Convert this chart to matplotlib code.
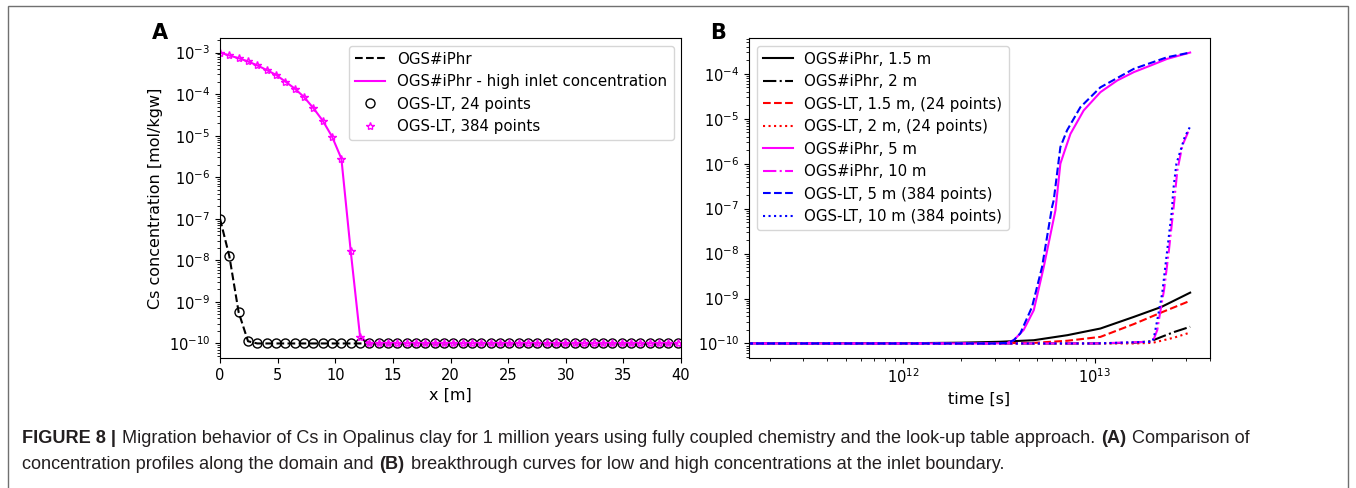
import numpy as np
import matplotlib
matplotlib.use("Agg")
import matplotlib.pyplot as plt
from matplotlib.patches import Rectangle
from matplotlib.font_manager import FontProperties

# ---- panel A: concentration profiles along the domain ----
x_nodes = np.linspace(0, 39.7, 50)  # node positions [m]
c_low = [1.0e-7, 1.26e-8, 5.6e-10, 1.13e-10] + [1.0e-10] * 46
c_high = [1.0e-3, 8.5e-4, 7.3e-4, 6.1e-4, 4.9e-4, 3.8e-4, 2.9e-4, 2.0e-4,
          1.36e-4, 8.5e-5, 4.6e-5, 2.3e-5, 9.5e-6, 2.8e-6, 1.66e-8,
          1.45e-10] + [1.0e-10] * 34

# ---- panel B: breakthrough curves ----
t_iphr_15 = [1e11, 1e12, 2e12, 3.2e12, 4.8e12, 7.2e12, 1.07e13, 1.6e13, 2.23e13, 3.15e13]
c_iphr_15 = [1.0e-10, 1.01e-10, 1.04e-10, 1.09e-10, 1.18e-10, 1.53e-10, 2.15e-10, 3.9e-10, 6.5e-10, 1.35e-9]

t_iphr_2 = [1e11, 1e13, 1.6e13, 1.96e13, 2.23e13, 2.6e13, 3.15e13]
c_iphr_2 = [1.0e-10, 1.0e-10, 1.04e-10, 1.12e-10, 1.4e-10, 1.8e-10, 2.35e-10]

t_lt_15 = [1e11, 2e12, 4.8e12, 7.2e12, 1.07e13, 1.6e13, 2.23e13, 3.15e13]
c_lt_15 = [1.0e-10, 1.0e-10, 1.03e-10, 1.15e-10, 1.4e-10, 2.7e-10, 4.9e-10, 8.9e-10]

t_lt_2 = [1e11, 1.6e13, 2.0e13, 2.23e13, 2.6e13, 3.15e13]
c_lt_2 = [1.0e-10, 1.0e-10, 1.03e-10, 1.15e-10, 1.35e-10, 1.75e-10]

t_iphr_5 = [1e11, 2e12, 3.0e12, 3.47e12, 3.77e12, 4.25e12, 4.8e12, 5.41e12, 6.23e12,
            6.61e12, 6.88e12, 7.46e12, 8.75e12, 1.07e13, 1.31e13, 1.6e13, 1.96e13,
            2.39e13, 3.15e13]
c_iphr_5 = [1.0e-10, 1.0e-10, 1.0e-10, 1.02e-10, 1.18e-10, 2.0e-10, 5.5e-10, 5.0e-9, 9.2e-8,
            1.0e-6, 1.67e-6, 4.6e-6, 1.53e-5, 3.9e-5, 7.1e-5, 1.09e-4, 1.53e-4,
            2.15e-4, 2.97e-4]

t_iphr_10 = [1e11, 1e13, 1.96e13, 2.04e13, 2.12e13, 2.19e13, 2.30e13, 2.44e13, 2.59e13,
             2.70e13, 2.87e13, 3.1e13]
c_iphr_10 = [1.0e-10, 1.0e-10, 1.09e-10, 1.29e-10, 1.98e-10, 4.6e-10, 1.53e-9, 1.18e-8, 1.2e-7,
             7.1e-7, 2.55e-6, 5.5e-6]

t_lt_5 = [1e11, 2e12, 3.0e12, 3.47e12, 3.77e12, 4.08e12, 4.7e12, 5.3e12, 5.98e12, 6.1e12,
          6.61e12, 7.16e12, 8.41e12, 1.07e13, 1.6e13, 2.39e13, 3.15e13]
c_lt_5 = [1.0e-10, 1.0e-10, 1.0e-10, 1.03e-10, 1.18e-10, 1.67e-10, 6.5e-10, 5.0e-9, 1.09e-7, 1.53e-7,
          2.34e-6, 5.5e-6, 1.81e-5, 5.0e-5, 1.29e-4, 2.34e-4, 2.97e-4]

t_lt_10 = [1e11, 1e13, 2.0e13, 2.04e13, 2.12e13, 2.25e13, 2.39e13, 2.53e13, 2.57e13,
           2.67e13, 2.95e13, 3.15e13]
c_lt_10 = [1.0e-10, 1.0e-10, 1.09e-10, 1.4e-10, 3.3e-10, 1.29e-9, 1.18e-8, 9.2e-8, 2.55e-7,
           1.0e-6, 3.9e-6, 6.7e-6]

W, H = 1356, 488
plt.rcParams["font.size"] = 10.5
fig = plt.figure(figsize=(W / 100, H / 100), dpi=100)

axA = fig.add_axes([220 / W, 1 - 358 / H, 461 / W, 320 / H])
axB = fig.add_axes([749 / W, 1 - 358 / H, 461 / W, 320 / H])

# panel A
axA.plot(x_nodes, c_low, "k--", lw=1.5, label="OGS#iPhr")
axA.plot(x_nodes, c_high, "-", color="magenta", lw=1.5,
         label="OGS#iPhr - high inlet concentration")
axA.plot(x_nodes, c_low, "o", mfc="none", mec="k", ms=6.5, ls="none",
         label="OGS-LT, 24 points")
axA.plot(x_nodes, c_high, "*", mfc="none", mec="magenta", ms=6, ls="none",
         label="OGS-LT, 384 points")
axA.set_yscale("log")
axA.set_xlim(0, 40)
axA.set_xticks(np.arange(0, 41, 5))
axA.set_xlabel("x [m]", fontsize=11.5)
axA.set_ylabel("Cs concentration [mol/kgw]", fontsize=11.5)
axA.legend(loc="upper right", fontsize=10.8)

# panel B
axB.plot(t_iphr_15, c_iphr_15, "k-", lw=1.5, label="OGS#iPhr, 1.5 m")
axB.plot(t_iphr_2, c_iphr_2, "k-.", lw=1.5, label="OGS#iPhr, 2 m")
axB.plot(t_lt_15, c_lt_15, "r--", lw=1.5, label="OGS-LT, 1.5 m, (24 points)")
axB.plot(t_lt_2, c_lt_2, "r:", lw=1.5, label="OGS-LT, 2 m, (24 points)")
axB.plot(t_iphr_5, c_iphr_5, "-", color="magenta", lw=1.5, label="OGS#iPhr, 5 m")
axB.plot(t_iphr_10, c_iphr_10, "-.", color="magenta", lw=1.5, label="OGS#iPhr, 10 m")
axB.plot(t_lt_5, c_lt_5, "b--", lw=1.5, label="OGS-LT, 5 m (384 points)")
axB.plot(t_lt_10, c_lt_10, "b:", lw=1.5, label="OGS-LT, 10 m (384 points)")
axB.set_xscale("log")
axB.set_yscale("log")
axB.set_xlim(1.56e11, 4.0e13)
axB.set_xlabel("time [s]", fontsize=11.5)
axB.legend(loc="upper left", fontsize=10.8)

fig.text(160 / W, 1 - 33 / H, "A", fontsize=15, fontweight="bold", ha="center", va="center")
fig.text(718 / W, 1 - 33 / H, "B", fontsize=15, fontweight="bold", ha="center", va="center")

# outer frame
fig.patches.append(Rectangle((8 / W, -0.02), 1340 / W, 1.02 - 6 / H, transform=fig.transFigure,
                             fill=False, edgecolor="#707070", lw=1.0))

# caption with bold pieces, laid out one after another
cap_fs = 13.1
renderer = fig.canvas.get_renderer()


def text_w(s, weight):
    fp = FontProperties(family="Liberation Sans", size=cap_fs, weight=weight)
    w, _, _ = renderer.get_text_width_height_descent(s, fp, ismath=False)
    return w


space = text_w("x x", "normal") - text_w("xx", "normal") + 1


def rich_line(ypix, parts):
    xpix = 22
    for s, weight in parts:
        fig.text(xpix / W, 1 - ypix / H, s, fontsize=cap_fs, fontweight=weight,
                 family="Liberation Sans", va="baseline", color="#231f20")
        xpix += text_w(s, weight) + space


rich_line(443, [("FIGURE 8 |", "bold"),
                ("Migration behavior of Cs in Opalinus clay for 1 million years using fully "
                 "coupled chemistry and the look-up table approach.", "normal"),
                ("(A)", "bold"), ("Comparison of", "normal")])
rich_line(469, [("concentration profiles along the domain and", "normal"), ("(B)", "bold"),
                ("breakthrough curves for low and high concentrations at the inlet boundary.",
                 "normal")])

fig.savefig("out.png", dpi=100)
